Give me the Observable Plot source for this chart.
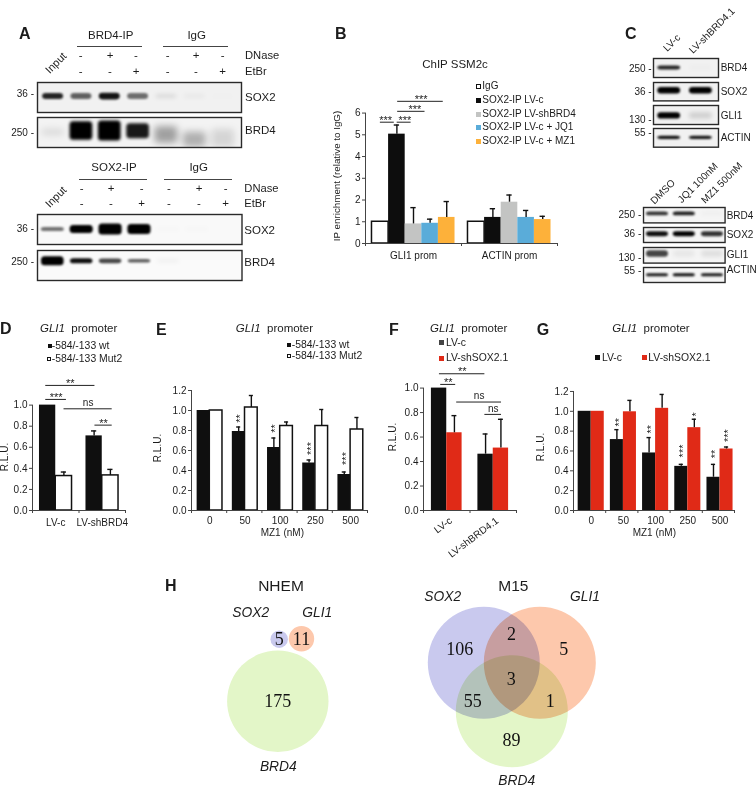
<!DOCTYPE html>
<html><head><meta charset="utf-8">
<script src="https://cdn.jsdelivr.net/npm/d3@7"></script>
<script src="https://cdn.jsdelivr.net/npm/@observablehq/plot@0.6"></script>
<style>
html,body{margin:0;padding:0;background:#fff;overflow:hidden}
#page{position:relative;width:756px;height:788px;overflow:hidden;font-family:"Liberation Sans",sans-serif;color:#1c1c1c}
#page svg{position:absolute;background:transparent;overflow:visible}
.n{position:absolute;white-space:nowrap;line-height:1}
.s{position:absolute}
</style></head><body><div id="page"></div>
<script>
// ---------- Panel A blots: band intensity per lane ----------
const lanes7 = [1,2,3,4,5,6,7];
const a1Sox2 = [.85,.6,.92,.55,.12,.05,.02];
const a1Thick = [.2,.2,.22,.2,.1,.1,.06];
const a2Brd4 = [.12,1,1,.9,.34,.28,.12];
const a2Thick = [.18,.62,.66,.5,.55,.5,.6];
const a2Mid = [.5,.45,.45,.46,.58,.74,.7];
const a3Sox2 = [.55,1,1,1,.02,.02,0];
const a3Thick = [.14,.27,.36,.33,.1,.1,.1];
const a4Brd4 = [1,.95,.72,.62,.06,0,0];
const a4Thick = [.3,.17,.16,.12,.08,.1,.1];
// ---------- Panel C blots ----------
const lanes2 = [1,2];
const c1Brd4 = [.85,.02], c1Sox2 = [1,1], c1Gli1 = [1,.14], c1Actin = [.95,.92];
const lanes3 = [1,2,3.05];
const c2Brd4 = [.8,.88,.03], c2Sox2 = [.95,1,.8], c2Gli1 = [.72,.06,.09], c2Actin = [.9,.95,.9];
// ---------- Panel B ----------
const bSeries = ["IgG","SOX2-IP LV-c","SOX2-IP LV-shBRD4","SOX2-IP LV-c + JQ1","SOX2-IP LV-c + MZ1"];
const bColors = ["#fff","#0d0d0d","#c3c4c3","#5aacd9","#fdb13a"];
const bGroups = ["GLI1 prom","ACTIN prom"];
const bGli1 = [1,5.03,.9,.93,1.2], bGli1Err = [1,5.45,1.65,1.12,1.93];
const bActin = [1,1.2,1.9,1.2,1.1], bActinErr = [1,1.6,2.23,1.52,1.25];
const bBrackets = [
  {x1:.155,x2:.30,y:5.58,t:"***",tx:.21},{x1:.33,x2:.475,y:5.58,t:"***",tx:.41},
  {x1:.335,x2:.62,y:6.08,t:"***",tx:.515},{x1:.335,x2:.81,y:6.54,t:"***",tx:.58}];
// ---------- Panel D ----------
const dGroups = ["LV-c","LV-shBRD4"];
const dWt = [1,.708], dWtErr = [1,.755], dMut = [.327,.333], dMutErr = [.365,.39];
const dBrackets = [
  {x1:.285,x2:.73,y:1.054,t:"***"},{x1:.285,x2:1.343,y:1.187,t:"**"},
  {x1:.678,x2:1.714,y:.965,t:"ns"},{x1:1.343,x2:1.714,y:.81,t:"**"}];
// ---------- Panel E ----------
const doses = ["0","50","100","250","500"];
const eWt = [1,.79,.63,.475,.36], eWtErr = [1,.835,.725,.505,.385];
const eMut = [1,1.03,.845,.845,.81], eMutErr = [1,1.15,.885,1.01,.93];
const eStars = [{g:1,y:.92,t:"**"},{g:2,y:.82,t:"**"},{g:3,y:.62,t:"***"},{g:4,y:.52,t:"***"}];
// ---------- Panel F ----------
const fGroups = ["LV-c","LV-shBRD4.1"];
const fC = [1,.46], fCErr = [1,.625], fSh = [.635,.51], fShErr = [.775,.745];
const fBrackets = [
  {x1:.37,x2:.692,y:1.03,t:"**"},{x1:.343,x2:1.32,y:1.117,t:"**"},
  {x1:.714,x2:1.678,y:.886,t:"ns"},{x1:1.32,x2:1.678,y:.785,t:"ns"}];
// ---------- Panel G ----------
const gC = [1,.715,.58,.445,.335], gCErr = [1,.815,.735,.465,.465];
const gSh = [1,.995,1.03,.835,.62], gShErr = [1,1.11,1.17,.92,.64];
const gStars = [{g:1,s:0,y:.89,t:"**"},{g:2,s:0,y:.82,t:"**"},{g:3,s:0,y:.6,t:"***"},{g:4,s:0,y:.57,t:"**"},{g:3,s:1,y:.97,t:"*"},{g:4,s:1,y:.755,t:"***"}];
// ---------- Panel H (Venn) ----------
const vennColors = {SOX2:"#c9c9ee",GLI1:"#fdc8ac",BRD4:"#e3f6c8"};
const vennCircles = [
  {set:"SOX2",x:278.7,y:638.7,r:8.7},{set:"GLI1",x:301,y:638.3,r:12.7},{set:"BRD4",x:277.3,y:700.7,r:50.7},
  {set:"SOX2",x:483.3,y:662.3,r:56},{set:"GLI1",x:539.3,y:662.3,r:56},{set:"BRD4",x:511.3,y:710.7,r:56}];
const vennCounts = [
  {n:"5",x:278.7,y:638.7},{n:"11",x:301,y:638.7},{n:"175",x:277.3,y:700.7},
  {n:"106",x:459.3,y:648.3},{n:"2",x:511,y:634},{n:"5",x:563.3,y:648.3},
  {n:"3",x:510.7,y:678.3},{n:"55",x:472.3,y:701},{n:"1",x:549.7,y:701},{n:"89",x:511,y:739.3}];

const page = document.getElementById("page");
const black="#0f0f0f", red="#e02a17";

function place(svg,left,top){svg.style.left=left+"px";svg.style.top=top+"px";page.appendChild(svg);}

function note(html,x,y,o={}){
  const d=document.createElement("div");d.className="n";d.innerHTML=html;
  const size=o.size||10, a=o.anchor||"start";
  d.style.fontSize=size+"px";d.style.left=x+"px";d.style.top=y+"px";
  if(o.weight)d.style.fontWeight=o.weight;
  if(o.italic)d.style.fontStyle="italic";
  if(o.color)d.style.color=o.color;
  if(o.font)d.style.fontFamily=o.font;
  const ax=a==="middle"?"-50%":a==="end"?"-100%":"0";
  d.style.transform=`translate(${ax},-50%)`+(o.rot?` rotate(${o.rot}deg)`:"");
  d.style.transformOrigin=a==="middle"?"50% 50%":a==="end"?"100% 50%":"0 50%";
  page.appendChild(d);
}
function hline(x1,x2,y){const d=document.createElement("div");d.className="s";
  d.style.cssText+=`left:${x1}px;top:${y}px;width:${x2-x1}px;height:1px;background:#444`;page.appendChild(d);}
function swatch(x,y,w,fill,border){const d=document.createElement("div");d.className="s";
  d.style.cssText+=`left:${x}px;top:${y-w/2}px;width:${w}px;height:${w}px;box-sizing:border-box;background:${fill};`+(border?`border:1.2px solid ${border}`:"");page.appendChild(d);}

function blot({x0,x1,y0,y1,lanes,dom,bg="#f6f6f6",i,thick,mid,wide,blur=.9}){
  const bands=lanes.map((l,k)=>({l,i:i[k],t:Array.isArray(thick)?thick[k]:thick,m:Array.isArray(mid)?mid[k]:mid,w:Array.isArray(wide)?wide[k]:wide}));
  const chan={x1:d=>d.l-d.w/2,x2:d=>d.l+d.w/2,y1:d=>d.m-d.t/2,y2:d=>d.m+d.t/2,fill:d=>`rgba(0,0,0,${d.i})`,clip:true};
  const svg=Plot.plot({width:x1-x0+2,height:y1-y0+2,margin:1,
    x:{axis:null,domain:dom},y:{axis:null,domain:[1,0]},color:{type:"identity"},
    marks:[
      Plot.frame({fill:bg,stroke:"none"}),
      Plot.rect(bands.filter(d=>d.i<.4),{...chan,rx:3,imageFilter:`blur(${blur*2.6}px)`}),
      Plot.rect(bands.filter(d=>d.i>=.4),{...chan,rx:3.5,imageFilter:`blur(${blur}px)`}),
      Plot.frame({stroke:"#2a2a2a",strokeWidth:1.4})
    ]});
  place(svg,x0-1,y0-1);
}

function barPanel({x0,x1,base,unit,yMax,axisTop,yTicks,yFmt,nG,xTicks,bars,labels,brackets=[],stars=[],mb=30,w,labelRot,labelDy=12}){
  const ml=26,mr=10;
  const height=Math.round(yMax*unit)+mb;
  const cap=w*.16;
  const errs=bars.filter(d=>d.e>d.v);
  const words=brackets.filter(d=>d.t==="ns"), asts=brackets.filter(d=>d.t!=="ns");
  const svg=Plot.plot({width:Math.round(x1-x0)+ml+mr,height,marginLeft:ml,marginRight:mr,marginTop:0,marginBottom:mb,
    style:{fontFamily:"Liberation Sans",fontSize:"10px",color:"#1c1c1c",background:"transparent"},
    x:{domain:[0,nG],axis:null},y:{domain:[0,yMax],axis:null},color:{type:"identity"},
    marks:[
      Plot.rect(bars,{x1:d=>d.x-w/2,x2:d=>d.x+w/2,y1:d=>0,y2:"v",fill:"fill"}),
      Plot.rect(bars.filter(d=>d.fill==="#fff"),{x1:d=>d.x-w/2,x2:d=>d.x+w/2,y1:d=>0,y2:"v",fill:"#fff",stroke:"#111",strokeWidth:1.5}),
      Plot.ruleX(errs,{x:"x",y1:"v",y2:"e",stroke:"#111",strokeWidth:1.4}),
      Plot.ruleY(errs,{y:"e",x1:d=>d.x-cap,x2:d=>d.x+cap,stroke:"#111",strokeWidth:1.4}),
      Plot.ruleX([0],{y1:d=>0,y2:d=>axisTop,stroke:"#444",strokeWidth:1}),
      Plot.ruleY([0],{stroke:"#444",strokeWidth:1}),
      Plot.axisY({ticks:yTicks,tickFormat:yFmt,tickSize:3,tickPadding:2,label:null,stroke:"#444"}),
      Plot.axisX({ticks:xTicks,tickFormat:()=>"",tickSize:3,label:null,stroke:"#444"}),
      Plot.text(labels,{x:"x",y:d=>0,text:"t",dy:labelDy,dx:labelRot?4:0,rotate:labelRot||0,textAnchor:labelRot?"end":"middle",fontSize:10}),
      Plot.ruleY(brackets,{y:"y",x1:"x1",x2:"x2",stroke:"#222",strokeWidth:1}),
      Plot.text(asts,{x:d=>d.tx??(d.x1+d.x2)/2,y:"y",text:"t",dy:-2,fontSize:11}),
      Plot.text(words,{x:d=>(d.x1+d.x2)/2,y:"y",text:"t",dy:-6,fontSize:10}),
      Plot.text(stars,{x:"x",y:"y",text:"t",rotate:-90,dx:2,fontSize:11})
    ]});
  place(svg,x0-ml,base-Math.round(yMax*unit));
}
function twoSeries(a,ae,b,be,fa,fb,off,w){
  const out=[];
  a.forEach((v,g)=>{out.push({x:g+off-w/2,v,e:ae[g],fill:fa});out.push({x:g+off+w/2,v:b[g],e:be[g],fill:fb});});
  return out;
}
const f1=d3.format(".1f");
const rluTicks=[0,.2,.4,.6,.8,1], rluTicks12=[0,.2,.4,.6,.8,1,1.2];

// ---------- A ----------
const domA=[.45,7.65];
blot({x0:37,x1:241,y0:82,y1:112,lanes:lanes7,dom:domA,bg:"#f1f1f1",i:a1Sox2,thick:a1Thick,mid:.47,wide:.74});
blot({x0:37,x1:241,y0:117,y1:147,lanes:lanes7,dom:domA,bg:"#f3f3f3",i:a2Brd4,thick:a2Thick,mid:a2Mid,wide:.8,blur:1.5});
const domA2=[.47,7.55];
blot({x0:37,x1:241.5,y0:214.3,y1:244.3,lanes:lanes7,dom:domA2,bg:"#f9f9f9",i:a3Sox2,thick:a3Thick,mid:.5,wide:.8});
blot({x0:37,x1:241.5,y0:250,y1:280,lanes:lanes7,dom:domA2,bg:"#fafafa",i:a4Brd4,thick:a4Thick,mid:.36,wide:.78});
note("A",19,34,{size:16,weight:"bold"});
note("BRD4-IP",110.7,36,{size:11.5,anchor:"middle"});hline(76.7,142.3,46);
note("IgG",196.7,36,{size:11.5,anchor:"middle"});hline(162.7,228.3,46);
note("SOX2-IP",114,168,{size:11.5,anchor:"middle"});hline(79.3,147,179);
note("IgG",198.7,168,{size:11.5,anchor:"middle"});hline(164,231.7,179);
const dnase=["-","+","-","-","+","-"], etbr=["-","-","+","-","-","+"];
[80.7,110,136,167.7,196,222.7].forEach((x,k)=>{note(dnase[k],x,56,{size:11.5,anchor:"middle"});note(etbr[k],x,71.7,{size:11.5,anchor:"middle"});});
[81.7,111,141.7,169,199,225.7].forEach((x,k)=>{note(dnase[k],x,189,{size:11.5,anchor:"middle"});note(etbr[k],x,204,{size:11.5,anchor:"middle"});});
note("DNase",245,56,{size:11.2});note("EtBr",245,71.7,{size:11.2});
note("DNase",244.3,189,{size:11.2});note("EtBr",244.3,204,{size:11.2});
note("Input",56,63.3,{size:11,anchor:"middle",rot:-45});note("Input",56,196.7,{size:11,anchor:"middle",rot:-45});
note("36 -",34,94,{anchor:"end"});note("250 -",34,132.7,{anchor:"end"});
note("36 -",34,229,{anchor:"end"});note("250 -",34,262,{anchor:"end"});
note("SOX2",245,98.3,{size:11.5});note("BRD4",245,130.7,{size:11.5});
note("SOX2",244.3,230.7,{size:11.5});note("BRD4",244.3,263.3,{size:11.5});

// ---------- B ----------
{
  const w=.173,bars=[];
  [[bGli1,bGli1Err],[bActin,bActinErr]].forEach(([vals,errs],g)=>vals.forEach((v,s)=>bars.push({x:g+.5+(s-2)*w,v,e:errs[s],fill:bColors[s]})));
  barPanel({x0:365,x1:556.7,base:242.7,unit:21.67,yMax:6.9,axisTop:6,yTicks:[0,1,2,3,4,5,6],yFmt:d3.format("d"),nG:2,xTicks:[0,1,2],
    bars,w,labels:bGroups.map((t,g)=>({t,x:g+.5})),brackets:bBrackets,labelDy:12});
}
note("B",335,34.3,{size:16,weight:"bold"});
note("ChIP SSM2c",455,65,{size:11.5,anchor:"middle"});
note("IP enrichment (relative to IgG)",337.3,176,{anchor:"middle",rot:-90,size:9.8});
[86,100,114,127.3,141.3].forEach((y,k)=>{swatch(475.5,y,5,bColors[k],k?null:"#111");note(bSeries[k],482.3,y);});

// ---------- C ----------
const domC1=[.505,2.555], domC2=[.48,3.52];
[[58.3,77.3,c1Brd4,.2,.5],[82.3,100.7,c1Sox2,.36,.45],[105,124,c1Gli1,.33,.55],[128,146.7,c1Actin,.17,.5]]
 .forEach(([y0,y1,i,thick,mid])=>blot({x0:653.3,x1:718.3,y0,y1,lanes:lanes2,dom:domC1,bg:"#f1f1f1",i,thick,mid,wide:.72}));
[[207.3,222.7,c2Brd4,.24,.42],[226.7,241.7,c2Sox2,.32,.45],[246.7,262.3,c2Gli1,.42,.42],[266.7,281.7,c2Actin,.2,.52]]
 .forEach(([y0,y1,i,thick,mid])=>blot({x0:642.7,x1:724.3,y0,y1,lanes:lanes3,dom:domC2,bg:"#f5f5f5",i,thick,mid,wide:.82}));
note("C",625,34,{size:16,weight:"bold"});
note("LV-c",671.7,43.3,{anchor:"middle",rot:-45});note("LV-shBRD4.1",690.7,51.7,{rot:-45});
[["250 -",69],["36 -",92.3],["130 -",120],["55 -",132.7]].forEach(([t,y])=>note(t,651.7,y,{anchor:"end"}));
[["BRD4",68.3],["SOX2",92],["GLI1",115.7],["ACTIN",138.3]].forEach(([t,y])=>note(t,720.7,y));
note("DMSO",662.7,191.7,{anchor:"middle",rot:-45});note("JQ1 100nM",698.3,183.3,{anchor:"middle",rot:-45});note("MZ1 500nM",722,182.7,{anchor:"middle",rot:-45});
[["250 -",215],["36 -",234],["130 -",258],["55 -",270.7]].forEach(([t,y])=>note(t,641.3,y,{anchor:"end"}));
[["BRD4",215.7],["SOX2",234.7],["GLI1",255],["ACTIN",270]].forEach(([t,y])=>note(t,726.7,y));

// ---------- D ----------
const promoter='<i>GLI1</i>&nbsp; promoter';
barPanel({x0:31.7,x1:125,base:510,unit:105,yMax:1.3,axisTop:1,yTicks:rluTicks,yFmt:f1,nG:2,xTicks:[0,1,2],w:.35,
  bars:twoSeries(dWt,dWtErr,dMut,dMutErr,black,"#fff",.5,.35),labels:dGroups.map((t,g)=>({t,x:g+.5})),brackets:dBrackets});
note("D",0,329.3,{size:16,weight:"bold"});note(promoter,40,329,{size:11.5});
swatch(48,346,3.5,black);note("-584/-133 wt",51.7,346,{size:10.4});
swatch(46.7,359,4.5,"#fff","#111");note("-584/-133 Mut2",51.7,359,{size:10.4});
note("R.L.U.",5,456.7,{anchor:"middle",rot:-90});

// ---------- E ----------
barPanel({x0:191,x1:367.3,base:510,unit:100,yMax:1.25,axisTop:1.2,yTicks:rluTicks12,yFmt:f1,nG:5,xTicks:[0,1,2,3,4,5],w:.36,
  bars:twoSeries(eWt,eWtErr,eMut,eMutErr,black,"#fff",.52,.36),labels:doses.map((t,g)=>({t,x:g+.52})),
  stars:eStars.map(d=>({...d,x:d.g+.52-.18})),labelDy:10});
note("E",156,330,{size:16,weight:"bold"});note(promoter,235.7,329,{size:11.5});
swatch(287,345,4,black);note("-584/-133 wt",291.7,345,{size:10.4});
swatch(286.5,356,4.5,"#fff","#111");note("-584/-133 Mut2",291.7,356,{size:10.4});
note("R.L.U.",157.7,448.3,{anchor:"middle",rot:-90});note("MZ1 (nM)",282.3,533.3,{anchor:"middle"});

// ---------- F ----------
barPanel({x0:422.7,x1:516,base:510,unit:122.3,yMax:1.16,axisTop:1,yTicks:rluTicks,yFmt:f1,nG:2,xTicks:[0,1,2],w:.33,mb:60,
  bars:twoSeries(fC,fCErr,fSh,fShErr,black,red,.5,.33),labels:fGroups.map((t,g)=>({t,x:g+.5})),brackets:fBrackets,labelRot:-37,labelDy:9});
note("F",389,330,{size:16,weight:"bold"});note(promoter,430,329,{size:11.5});
swatch(439,342.7,5,"#444");note("LV-c",446,342.7,{size:10.4});
swatch(439,358.3,5,red);note("LV-shSOX2.1",446,358.3,{size:10.4});
note("R.L.U.",393.3,436.7,{anchor:"middle",rot:-90});

// ---------- G ----------
barPanel({x0:572.7,x1:733.3,base:510,unit:99.4,yMax:1.25,axisTop:1.2,yTicks:rluTicks12,yFmt:f1,nG:5,xTicks:[0,1,2,3,4,5],w:.405,
  bars:twoSeries(gC,gCErr,gSh,gShErr,black,red,.55,.405),labels:doses.map((t,g)=>({t,x:g+.55})),
  stars:gStars.map(d=>({...d,x:d.g+.55+(d.s?.2:-.2)})),labelDy:10});
note("G",536.7,330,{size:16,weight:"bold"});note(promoter,612.3,329,{size:11.5});
swatch(595,357.7,5,black);note("LV-c",602,357.7,{size:10.4});
swatch(641.7,357.7,5,red);note("LV-shSOX2.1",648.3,357.7,{size:10.4});
note("R.L.U.",541,446.7,{anchor:"middle",rot:-90});note("MZ1 (nM)",654.3,533.3,{anchor:"middle"});

// ---------- H ----------
{
  const svg=Plot.plot({width:520,height:238,margin:0,x:{domain:[150,670],axis:null},y:{domain:[788,550],axis:null},
    r:{type:"identity"},
    marks:[
      Plot.dot(vennCircles,{x:"x",y:"y",r:"r",fill:d=>vennColors[d.set],stroke:"none",mixBlendMode:"multiply"}),
      Plot.text(vennCounts,{x:"x",y:"y",text:"n",fontFamily:"Liberation Serif",fontSize:18,fill:"#111"})
    ]});
  place(svg,150,550);
}
note("H",165,586,{size:16,weight:"bold"});
note("NHEM",281,586.3,{size:15.5,anchor:"middle"});note("M15",513.3,586.3,{size:15.5,anchor:"middle"});
[["SOX2",250.7,613.3],["GLI1",317.3,613.3],["BRD4",278.3,766.7],["SOX2",442.7,596.7],["GLI1",585,596.7],["BRD4",516.7,780.5]]
 .forEach(([t,x,y])=>note(t,x,y,{size:13.8,italic:true,anchor:"middle"}));
</script></body></html>
